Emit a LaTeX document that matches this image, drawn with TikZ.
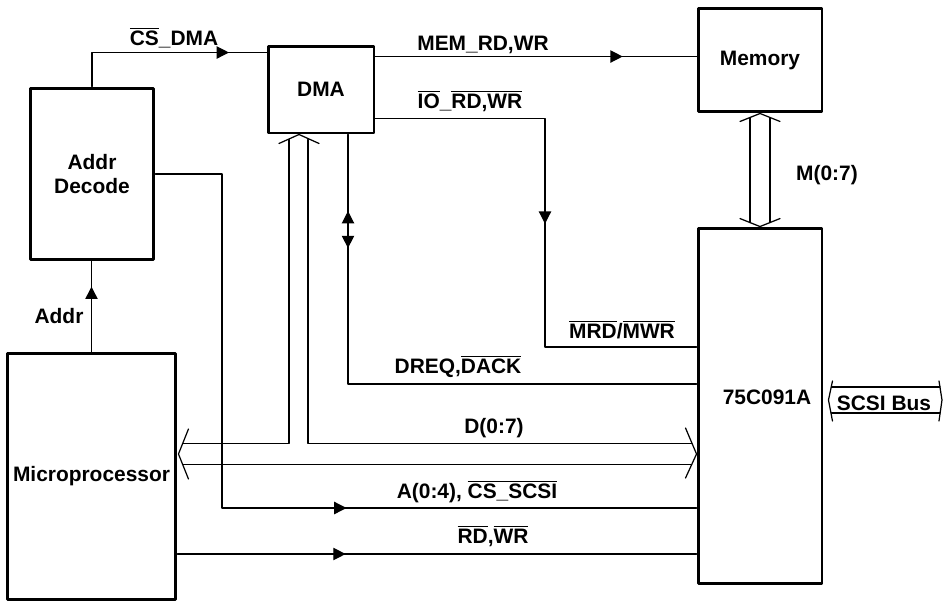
\documentclass[tikz,border=0pt]{standalone}
\usepackage{fontspec}
\setmainfont{Liberation Sans}
\usetikzlibrary{arrows.meta,positioning,calc,decorations.markings}

\newcommand{\nbar}[1]{$\overline{\mbox{#1}}$}

\tikzset{
  blk/.style={draw, line width=1.7pt, inner sep=0pt, align=center},
  sig/.style={line width=0.7pt},
  sigarrow/.style={postaction={decorate}, decoration={markings,
      mark=at position #1 with {\arrow{Triangle[length=7pt,width=7pt]}}}},
  dreqarrow/.style={postaction={decorate}, decoration={markings,
      mark=at position 0.128 with {\arrowreversed{Triangle[length=7pt,width=7pt]}},
      mark=at position 0.19 with {\arrow{Triangle[length=7pt,width=7pt]}}}},
  lbl/.style={anchor=base, inner sep=0pt},
}

\begin{document}
\begin{tikzpicture}[x=0.02cm, y=-0.02cm, line cap=round, line join=round,
    font=\fontsize{11.9}{14.2}\selectfont\bfseries]
  \useasboundingbox (0,0) rectangle (943,602);

  % blocks
  \node[blk, minimum width=2.48cm, minimum height=3.44cm] (addr) at (92,174) {Addr\\Decode};
  \node[blk, minimum width=2.12cm, minimum height=1.74cm] (dma) at (321,89.5) {DMA};
  \node[blk, minimum width=2.48cm, minimum height=2.08cm] (mem) at (760,60) {Memory};
  \node[blk, minimum width=2.48cm, minimum height=7.12cm] (chip) at (760,406) {};
  \node[blk, minimum width=3.38cm, minimum height=4.94cm] (cpu) at (91.5,476.5) {Microprocessor};
  \node (chiplbl) at ($(chip.center)+(7,-9)$) {75C091A};

  % control lines from the DMA
  \coordinate (csin) at ($(dma.north west)+(0,8)$);
  \draw[sig, sigarrow=0.82] (addr.north) |- (csin);
  \node[lbl] (cslbl) at (174,45) {\nbar{CS}\_DMA};

  \coordinate (memout) at ($(dma.north east)+(0,12)$);
  \draw[sig, sigarrow=0.77] (memout) -- (memout -| mem.west);
  \node[lbl] (memlbl) at (483,50) {MEM\_RD,WR};

  \coordinate (ioout) at ($(dma.south east)+(0,-16)$);
  \coordinate (iobend) at (545,347);
  \draw[sig, sigarrow=0.5] (ioout) -| (iobend) -- (iobend -| chip.west);
  \node[lbl] (iolbl) at (470,108) {\nbar{IO}\_\nbar{RD,WR}};
  \node[lbl] (mrdlbl) at (622,338) {\nbar{MRD}/\nbar{MWR}};

  \coordinate (dreqbend) at (348,384);
  \draw[sig, dreqarrow] (dma.south -| dreqbend) -- (dreqbend) -- (dreqbend -| chip.west);
  \node[lbl] (dreqlbl) at (458,373) {DREQ,\nbar{DACK}};

  % address and strobes from the cpu
  \draw[sig, sigarrow=0.72] (cpu.north) -- (cpu.north |- addr.south);
  \node[lbl] (addrlbl) at (59,323) {Addr};

  \coordinate (abend) at (222,508);
  \draw[sig, sigarrow=0.6] (addr.east) -| (abend) -- (abend -| chip.west);
  \node[lbl] (alb) at (477,498) {A(0:4), \nbar{CS\_SCSI}};

  \coordinate (rdout) at ($(cpu.east)+(0,77.5)$);
  \draw[sig, sigarrow=0.324] (rdout) -- (rdout -| chip.west);
  \node[lbl] (rdlbl) at (493,543) {\nbar{RD},\nbar{WR}};

  % data bus D(0:7)
  \coordinate (dtip) at ($(dma.south)+(-22,0)$);
  \coordinate (ctip) at ($(cpu.east)+(1,-22.5)$);
  \coordinate (ktip) at ($(chip.west)+(0,48)$);
  \draw[sig] ($(dtip)+(-20,9)$) -- (dtip) -- ($(dtip)+(20,9)$);
  \draw[sig] ($(ctip)+(10,-25)$) -- (ctip) -- ($(ctip)+(10,25)$);
  \draw[sig] ($(ktip)+(-11,-26)$) -- (ktip) -- ($(ktip)+(-11,24)$);
  \draw[sig] ($(dtip)+(-10,5)$) |- ($(ctip)+(4,-10.5)$);
  \draw[sig] ($(dtip)+(9,5)$) |- ($(ktip)+(-5,-10.5)$);
  \draw[sig] ($(ctip)+(4,10.5)$) -- ($(ktip)+(-5,10.5)$);
  \node[lbl] (dlbl) at (494,433) {D(0:7)};

  % memory bus M(0:7)
  \draw[sig] ($(mem.south)+(-20,8)$) -- (mem.south) -- ($(mem.south)+(20,8)$);
  \draw[sig] ($(chip.north)+(-20,-8)$) -- (chip.north) -- ($(chip.north)+(20,-8)$);
  \draw[sig] ($(mem.south)+(-10,4)$) -- ($(chip.north)+(-10,-4)$);
  \draw[sig] ($(mem.south)+(10,4)$) -- ($(chip.north)+(10,-4)$);
  \node[lbl] (mlbl) at (827,180) {M(0:7)};

  % SCSI bus
  \node (scsi) at (884,403) {SCSI Bus};
  \coordinate (sl) at ($(chip.east)+(5,-6)$);
  \coordinate (sr) at (942,400);
  \draw[sig] ($(sl)+(4,-19)$) -- (sl) -- ($(sl)+(4,21)$);
  \draw[sig] ($(sr)+(-3,-19)$) -- (sr) -- ($(sr)+(-3,21)$);
  \draw[sig] ($(sl)+(3,-13)$) -- ($(sr)+(-2,-13)$);
  \draw[sig] ($(sl)+(3,13)$) -- ($(sr)+(-2,13)$);
\end{tikzpicture}
\end{document}
